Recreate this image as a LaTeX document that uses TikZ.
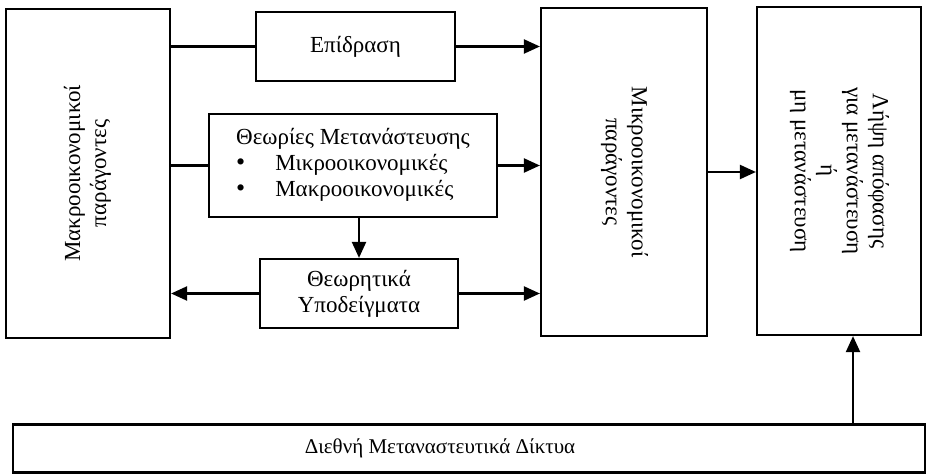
\documentclass[tikz,border=0pt]{standalone}
\usepackage{fontspec}
\setmainfont{Liberation Serif}
\usepackage{graphicx}
\usetikzlibrary{arrows.meta}

\newcommand{\bigbullet}{{\fontsize{13}{13}\selectfont\textbullet}}

\begin{document}
\begin{tikzpicture}[x=0.5pt,y=-0.5pt,
	box/.style={draw,line width=1.1pt,inner sep=0pt,align=center,font=\fontsize{11.5}{13}\selectfont},
	ln/.style={line width=1.1pt},
	arr/.style={line width=1.1pt,-{Triangle[length=8pt,width=7pt]}}]
	\useasboundingbox (0,0) rectangle (929,475);
	% left and right columns
	\node[box,minimum width=82pt,minimum height=164.5pt] (macro) at (88,173.5)
		{\rotatebox{90}{\begin{tabular}{@{}c@{}}Μακροοικονομικοί\\παράγοντες\end{tabular}}};
	\node[box,minimum width=83pt,minimum height=164pt] (micro) at (624,172)
		{\rotatebox{-90}{\begin{tabular}{@{}c@{}}Μικροοικονομικοί\\παράγοντες\end{tabular}}};
	\node[box,minimum width=82pt,minimum height=164pt] (decision) at (839,171)
		{\rotatebox{-90}{\begin{tabular}{@{}c@{}}Λήψη απόφασης\\για μετανάστευση\\ή\\μη μετανάστευση\end{tabular}}};
	% middle column
	\node[box,minimum width=99.5pt,minimum height=34.5pt] (effect) at (355.5,46.5) {Επίδραση};
	\node[box,minimum width=144pt,minimum height=51.5pt] (theories) at (353,165.5)
		{\begin{tabular}{@{}l@{\hspace{15pt}}l@{}}
			\multicolumn{2}{@{}c@{}}{Θεωρίες Μετανάστευσης}\\
			\bigbullet & Μικροοικονομικές\\
			\bigbullet & Μακροοικονομικές
		\end{tabular}};
	\node[box,minimum width=99pt,minimum height=34.5pt] (models) at (359,293.5) {Θεωρητικά\\Υποδείγματα};
	\node[box,minimum width=456pt,minimum height=24pt,font=\fontsize{10.5}{12}\selectfont] (network) at (469,448.5)
		{Διεθνή Μεταναστευτικά Δίκτυα\hspace*{29pt}};
	% connectors
	\draw[ln] (macro.east |- effect.west) -- (effect.west);
	\draw[arr] (effect.east) -- (effect.east -| micro.west);
	\draw[ln] (macro.east |- theories.west) -- (theories.west);
	\draw[arr] (theories.east) -- (theories.east -| micro.west);
	\draw[arr] (theories.south -| models.north) -- (models.north);
	\draw[arr] (models.west) -- (models.west -| macro.east);
	\draw[arr] (models.east) -- (models.east -| micro.west);
	\draw[arr] (micro.east) -- (micro.east -| decision.west);
	\draw[arr] ([xshift=7pt]decision.south |- network.north) -- ([xshift=7pt]decision.south);
\end{tikzpicture}
\end{document}
